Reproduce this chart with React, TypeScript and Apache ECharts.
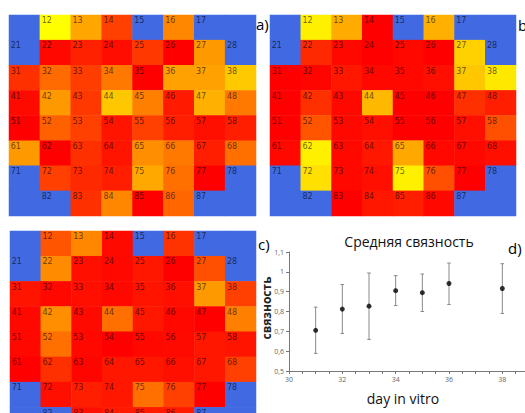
import React, { useEffect, useRef } from 'react';
import * as echarts from 'echarts';

// electrode grid: columns and rows (cell id = row + column)
const COLS = ['1', '2', '3', '4', '5', '6', '7', '8'];
const ROWS = ['1', '2', '3', '4', '5', '6', '7', '8'];
const N = null; // inactive electrode (blue, labelled)
const E = 'corner'; // no electrode (blue, unlabelled corner)

// relative level per electrode (0 = red, 1 = yellow)
const PANEL_A: (number | null | string)[][] = [
  [E, 1.0, 0.65, 0.25, N, 0.53, N, E],
  [N, 0.03, 0.13, 0.05, 0.22, 0.0, 0.6, N],
  [0.19, 0.42, 0.24, 0.47, 0.0, 0.63, 0.63, 0.79],
  [0.04, 0.6, 0.22, 0.78, 0.5, 0.1, 0.69, 0.47],
  [0.0, 0.38, 0.25, 0.08, 0.25, 0.12, 0.06, 0.12],
  [0.6, 0.0, 0.19, 0.08, 0.56, 0.47, 0.12, 0.44],
  [N, 0.25, 0.16, 0.12, 0.66, 0.44, 0.0, N],
  [E, N, 0.19, 0.53, 0.0, 0.4, N, E],
];
const PANEL_B: (number | null | string)[][] = [
  [E, 0.94, 0.67, 0.0, N, 0.69, N, E],
  [N, 0.16, 0.03, 0.0, 0.03, 0.0, 0.82, N],
  [0.0, 0.02, 0.09, 0.03, 0.03, 0.06, 0.78, 0.91],
  [0.0, 0.19, 0.03, 0.72, 0.0, 0.0, 0.19, 0.12],
  [0.0, 0.33, 0.03, 0.06, 0.0, 0.0, 0.06, 0.31],
  [0.03, 0.94, 0.03, 0.09, 0.66, 0.03, 0.03, 0.06],
  [N, 0.88, 0.03, 0.06, 0.94, 0.31, 0.0, N],
  [E, N, 0.0, 0.09, 0.12, 0.03, N, E],
];
const PANEL_C: (number | null | string)[][] = [
  [E, 0.33, 0.53, 0.04, N, 0.2, N, E],
  [N, 0.55, 0.06, 0.03, 0.09, 0.0, 0.31, N],
  [0.08, 0.03, 0.06, 0.03, 0.08, 0.06, 0.6, 0.25],
  [0.03, 0.56, 0.04, 0.44, 0.09, 0.03, 0.0, 0.5],
  [0.03, 0.44, 0.03, 0.0, 0.03, 0.04, 0.09, 0.08],
  [0.0, 0.19, 0.02, 0.09, 0.09, 0.06, 0.09, 0.25],
  [N, 0.06, 0.12, 0.09, 0.44, 0.25, 0.0, N],
  [E, N, 0.06, 0.1, 0.1, 0.1, N, E],
];

// mean connectivity vs day in vitro
const DAYS = [31, 32, 33, 34, 35, 36, 38];
const MEAN = [0.705, 0.812, 0.827, 0.905, 0.895, 0.941, 0.916];
const LOW = [0.589, 0.689, 0.659, 0.83, 0.8, 0.835, 0.79];
const HIGH = [0.822, 0.936, 0.994, 0.981, 0.989, 1.044, 1.041];

const TITLE = 'Средняя связность';
const Y_NAME = 'связность';
const X_NAME = 'day in vitro';
const PANEL_LETTERS = ['a)', 'b)', 'c)', 'd)'];

function cells(panel: (number | null | string)[][]) {
  const out: any[] = [];
  panel.forEach((row, r) =>
    row.forEach((v, c) => {
      const isCorner = v === E;
      out.push({
        name: isCorner ? '' : ROWS[r] + COLS[c],
        value: [c, r, typeof v === 'number' ? v : -1],
      });
    })
  );
  return out;
}

export default function App() {
  const ref = useRef<HTMLDivElement>(null);
  useEffect(() => {
    if (!ref.current) return;
    const chart = echarts.init(ref.current, undefined, { renderer: 'svg' });
    const heatGrids = [
      { left: 9, top: 15, width: 247, height: 201 },
      { left: 270, top: 15, width: 246, height: 201 },
      { left: 10, top: 231, width: 246, height: 201.5 },
    ];
    const panels = [PANEL_A, PANEL_B, PANEL_C];
    const font = 'Open Sans';
    const labelFont = 'DejaVu Sans';

    const grid: any[] = heatGrids.map((g) => ({ ...g, containLabel: false, outerBoundsMode: 'none' }));
    grid.push({ left: 289, top: 252, width: 240, height: 119, containLabel: false, outerBoundsMode: 'none' });

    const xAxis: any[] = heatGrids.map((_, i) => ({
      type: 'category', gridIndex: i, data: COLS, show: false,
    }));
    const yAxis: any[] = heatGrids.map((_, i) => ({
      type: 'category', gridIndex: i, data: ROWS, inverse: true, show: false,
    }));
    xAxis.push({
      type: 'value', gridIndex: 3, min: 30, max: 39, interval: 0.5,
      axisLine: { show: true, lineStyle: { color: '#777', width: 1 } },
      axisTick: { show: true, length: 3, lineStyle: { color: '#777' } },
      axisLabel: {
        fontSize: 7, color: '#666', margin: 5, fontFamily: font,
        formatter: (v: number) => (Math.abs(v % 2) < 1e-6 && v < 39 ? String(v) : ''),
      },
      splitLine: { show: false },
    });
    yAxis.push({
      type: 'value', gridIndex: 3, min: 0.5, max: 1.1, interval: 0.1,
      axisLine: { show: true, lineStyle: { color: '#777', width: 1 } },
      axisTick: { show: true, length: 3, lineStyle: { color: '#777' } },
      axisLabel: {
        fontSize: 7, color: '#666', margin: 5, fontFamily: font,
        formatter: (v: number) => String(+v.toFixed(1)).replace('.', ','),
      },
      splitLine: { show: false },
    });

    const series: any[] = panels.map((p, i) => ({
      type: 'heatmap', xAxisIndex: i, yAxisIndex: i, data: cells(p),
      label: {
        show: true, position: 'insideTopLeft', distance: 2,
        formatter: (prm: any) => prm.name, fontSize: 8, fontFamily: labelFont,
        color: 'rgba(0,0,0,0.62)',
      },
      itemStyle: { borderWidth: 0 },
      emphasis: { disabled: true },
    }));
    series.push({
      type: 'custom', xAxisIndex: 3, yAxisIndex: 3,
      data: DAYS.map((d, i) => [d, LOW[i], HIGH[i]]),
      encode: { x: 0, y: [1, 2] },
      renderItem: (params: any, api: any) => {
        const x = api.value(0);
        const lo = api.coord([x, api.value(1)]);
        const hi = api.coord([x, api.value(2)]);
        const cap = 1.8;
        const st = { stroke: '#8a8a8a', lineWidth: 1 };
        return {
          type: 'group',
          children: [
            { type: 'line', shape: { x1: lo[0], y1: lo[1], x2: hi[0], y2: hi[1] }, style: st },
            { type: 'line', shape: { x1: lo[0] - cap, y1: lo[1], x2: lo[0] + cap, y2: lo[1] }, style: st },
            { type: 'line', shape: { x1: hi[0] - cap, y1: hi[1], x2: hi[0] + cap, y2: hi[1] }, style: st },
          ],
        };
      },
      z: 2,
    });
    series.push({
      type: 'scatter', xAxisIndex: 3, yAxisIndex: 3,
      data: DAYS.map((d, i) => [d, MEAN[i]]),
      symbol: 'circle', symbolSize: 5,
      itemStyle: { color: '#000' },
      z: 3,
    });

    const letterPos = [
      [256, 24], [518, 25], [258, 244], [508, 248],
    ];
    const graphic: any[] = PANEL_LETTERS.map((t, i) => ({
      type: 'text', x: letterPos[i][0], y: letterPos[i][1],
      style: { text: t, font: `15px "${font}"`, fill: '#000', textAlign: 'left', textVerticalAlign: 'middle' },
    }));
    graphic.push({
      type: 'text', x: 409, y: 241,
      style: { text: TITLE, font: `14px "${font}"`, fill: '#111', textAlign: 'center', textVerticalAlign: 'middle' },
    });
    graphic.push({
      type: 'text', x: 266, y: 308, rotation: Math.PI / 2,
      style: { text: Y_NAME, font: `bold 12px "${font}"`, fill: '#222', textAlign: 'center', textVerticalAlign: 'middle' },
    });
    graphic.push({
      type: 'text', x: 403, y: 398,
      style: { text: X_NAME, font: `14px "${font}"`, fill: '#111', textAlign: 'center', textVerticalAlign: 'middle' },
    });

    chart.setOption({
      animation: false,
      backgroundColor: '#fff',
      grid, xAxis, yAxis, series, graphic,
      visualMap: {
        type: 'continuous', show: false, min: -1, max: 1,
        seriesIndex: [0, 1, 2], dimension: 2,
        inRange: { color: ['#4169E1', '#FF0000', '#FFFF00'] },
      },
    });
    return () => chart.dispose();
  }, []);
  return (
    <div
      ref={ref}
      style={{ position: 'absolute', left: 0, top: 0, width: 525, height: 413, background: '#fff' }}
    />
  );
}
